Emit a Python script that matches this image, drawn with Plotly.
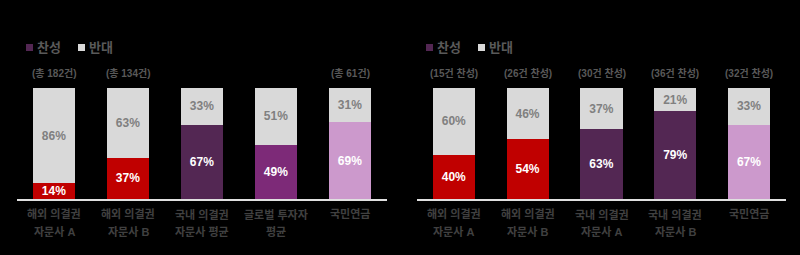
import plotly.graph_objects as go

# ---- data ----
left_cats = ["해외 의결권<br>자문사 A", "해외 의결권<br>자문사 B", "국내 의결권<br>자문사 평균", "글로벌 투자자<br>평균", "국민연금"]
left_favor = [14, 37, 67, 49, 69]
left_against = [86, 63, 33, 51, 31]
left_notes = ["(총 182건)", "(총 134건)", "", "", "(총 61건)"]

right_cats = ["해외 의결권<br>자문사 A ", "해외 의결권<br>자문사 B ", "국내 의결권<br>자문사 A", "국내 의결권<br>자문사 B", "국민연금 "]
right_favor = [40, 54, 63, 79, 67]
right_against = [60, 46, 37, 21, 33]
right_notes = ["(15건 찬성)", "(26건 찬성)", "(30건 찬성)", "(36건 찬성)", "(32건 찬성)"]

RED = "#c00000"
DPUR = "#532753"
MPUR = "#7d2a78"
LPUR = "#cc99cc"
GRAY = "#d9d9d9"
left_colors = [RED, RED, DPUR, MPUR, LPUR]
right_colors = [RED, RED, DPUR, DPUR, LPUR]

FONT = "Liberation Sans, Noto Sans CJK KR"
W, H = 800, 255

fig = go.Figure()

def add_panel(cats, favor, against, colors, xa, ya):
    fig.add_trace(go.Bar(
        x=cats, y=favor, marker=dict(color=colors, line=dict(width=0)),
        texttemplate="%{y}%", textposition="inside", insidetextanchor="middle",
        constraintext="none",
        textfont=dict(family=FONT, size=12, color="white", weight="bold"),
        xaxis=xa, yaxis=ya, showlegend=False, width=0.57))
    fig.add_trace(go.Bar(
        x=cats, y=against, marker=dict(color=GRAY, line=dict(width=0)),
        texttemplate="%{y}%", textposition="inside", insidetextanchor="middle",
        constraintext="none",
        textfont=dict(family=FONT, size=12, color="#808080", weight="bold"),
        xaxis=xa, yaxis=ya, showlegend=False, width=0.57))

add_panel(left_cats, left_favor, left_against, left_colors, "x", "y")
add_panel(right_cats, right_favor, right_against, right_colors, "x2", "y2")

ybot = (H - 199) / H
ytop = (H - 88) / H

axcommon = dict(showgrid=False, zeroline=False, showline=True, linecolor="#e0e0e0",
                linewidth=2, ticks="", showticklabels=False)
fig.update_layout(
    barmode="stack", bargap=0.43,
    width=W, height=H, margin=dict(l=0, r=0, t=0, b=0),
    paper_bgcolor="black", plot_bgcolor="black",
    xaxis=dict(domain=[17 / W, 387 / W], anchor="y", **axcommon),
    xaxis2=dict(domain=[417 / W, 786 / W], anchor="y2", **axcommon),
    yaxis=dict(domain=[ybot, ytop], range=[0, 100], visible=False),
    yaxis2=dict(domain=[ybot, ytop], range=[0, 100], visible=False, anchor="x2"),
)

lblfont = dict(family=FONT, size=11, color="#404040", weight="bold")
for cats, notes, xr in [(left_cats, left_notes, "x"), (right_cats, right_notes, "x2")]:
    for c, n in zip(cats, notes):
        # category labels (two lines)
        parts = c.split("<br>")
        for i, p in enumerate(parts):
            fig.add_annotation(x=c, y=(H - (214 + 18 * i)) / H, xref=xr, yref="paper", text=p.strip(),
                               showarrow=False, yanchor="middle", font=lblfont)
        # notes above bars
        if n:
            fig.add_annotation(x=c, y=(H - 73) / H, xref=xr, yref="paper", text=n, yanchor="middle",
                               showarrow=False, font=dict(family=FONT, size=10, color="#595959", weight="bold"))

# legends
for x0 in [26, 426]:
    fig.add_shape(type="rect", xref="paper", yref="paper",
                  x0=x0 / W, x1=(x0 + 7) / W, y0=(H - 51) / H, y1=(H - 44) / H,
                  fillcolor=DPUR, line=dict(width=0))
    fig.add_annotation(x=(x0 + 9) / W, y=(H - 47.5) / H, xref="paper", yref="paper", text="찬성",
                       xanchor="left", yanchor="middle", showarrow=False,
                       font=dict(family=FONT, size=13, color="#595959", weight="bold"))
    fig.add_shape(type="rect", xref="paper", yref="paper",
                  x0=(x0 + 52) / W, x1=(x0 + 59) / W, y0=(H - 51) / H, y1=(H - 44) / H,
                  fillcolor=GRAY, line=dict(width=0))
    fig.add_annotation(x=(x0 + 61) / W, y=(H - 47.5) / H, xref="paper", yref="paper", text="반대",
                       xanchor="left", yanchor="middle", showarrow=False,
                       font=dict(family=FONT, size=13, color="#595959", weight="bold"))

fig.write_html("out.html")
